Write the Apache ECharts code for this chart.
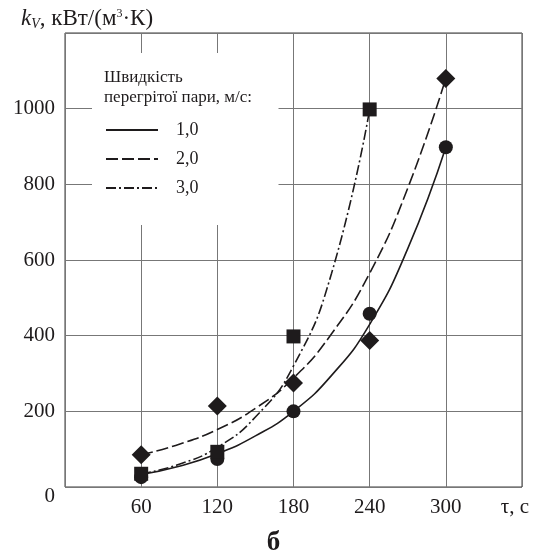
<!DOCTYPE html>
<html>
<head>
<meta charset="utf-8">
<script src="https://cdn.jsdelivr.net/npm/echarts@6/dist/echarts.min.js"></script>
<style>
  html, body { margin: 0; padding: 0; background: #fff; }
  #chart { width: 547px; height: 557px; }
</style>
</head>
<body>
<div id="chart"></div>
<script>
// time, s
const xTicks = [60, 120, 180, 240, 300];
// measured points
const pts10 = [26, 74, 200, 458, 898];
const pts20 = [85, 214, 275, 387, 1080];
const pts30 = [35, 93, 398, 998];
// trend curves, every 30 s
const fitTimes = [60, 90, 120, 150, 180, 210, 240, 270, 300];
const fit10 = [33, 55, 88, 135, 200, 295, 430, 630, 898];
const fit20 = [85, 113, 152, 208, 288, 405, 565, 790, 1080];
const fit30 = [35, 60, 105, 185, 320, 565, 998];
const seriesNames = ["1,0", "2,0", "3,0"];
const yTicks = [0, 200, 400, 600, 800, 1000];

const ink = "#1e1b1c";
const serif = "Liberation Serif, Times New Roman, serif";

function pairs(times, vals) {
  return vals.map((v, i) => [times[i], v]);
}

function curve(name, vals, type) {
  return {
    name: name,
    type: "line",
    data: pairs(fitTimes, vals),
    smooth: 0.5,
    symbol: "none",
    lineStyle: { color: ink, width: 1.6, type: type },
    z: 3
  };
}

function marks(vals, symbol, size) {
  return {
    type: "scatter",
    data: pairs(xTicks, vals),
    symbol: symbol,
    symbolSize: size,
    itemStyle: { color: ink, opacity: 1 },
    z: 5
  };
}

const chart = echarts.init(document.getElementById("chart"));
chart.setOption({
  animation: false,
  title: [
    {
      text: "{k|k}{v|V}{t|, кВт/(м}{s|3}{t|·К)}",
      left: 16, top: 2,
      textStyle: {
        fontWeight: "normal",
        rich: {
          k: { fontFamily: serif, fontStyle: "italic", fontWeight: "normal", fontSize: 23, color: ink },
          v: { fontFamily: serif, fontStyle: "italic", fontWeight: "normal", fontSize: 14, color: ink, padding: [10, 0, 0, 0] },
          t: { fontFamily: serif, fontWeight: "normal", fontSize: 23, color: ink },
          s: { fontFamily: serif, fontWeight: "normal", fontSize: 12, color: ink, padding: [0, 0, 10, 0] }
        }
      }
    },
    {
      text: "Швидкість\nперегрітої пари, м/с:",
      left: 104, top: 68,
      padding: 0,
      textStyle: { fontFamily: serif, fontWeight: "normal", fontSize: 17, lineHeight: 20, color: ink }
    },
    {
      text: "б",
      left: "center", top: 525,
      textStyle: { fontFamily: serif, fontWeight: "bold", fontSize: 27, color: ink }
    }
  ],
  legend: {
    data: seriesNames,
    orient: "vertical",
    left: 92, top: 53,
    backgroundColor: "#fff",
    padding: [68, 80, 28, 13],
    itemWidth: 52,
    itemHeight: 14,
    itemGap: 11,
    itemStyle: { opacity: 0 },
    textStyle: { fontFamily: serif, fontSize: 18, color: ink, padding: [0, 0, 0, 13] },
    selectedMode: false
  },
  grid: {
    left: 65, right: 25, top: 33, bottom: 70,
    show: true, borderColor: "#3a3a3a", borderWidth: 1
  },
  xAxis: {
    type: "value",
    min: 0, max: 360, interval: 60,
    axisLine: { show: false },
    axisTick: { show: false },
    splitLine: { show: true, lineStyle: { color: "#777", width: 1 } },
    axisLabel: {
      margin: 10,
      fontFamily: serif, fontSize: 21, color: ink,
      formatter: v => (v === 0 ? "" : v === 360 ? "{u|τ, с}" : String(v)),
      rich: { u: { fontFamily: serif, fontSize: 21, color: ink, padding: [0, 14, 0, 0] } }
    }
  },
  yAxis: {
    type: "value",
    min: 0, max: 1200, interval: 200,
    axisLine: { show: false },
    axisTick: { show: false },
    splitLine: { show: true, lineStyle: { color: "#777", width: 1 } },
    axisLabel: {
      margin: 10,
      fontFamily: serif, fontSize: 21, color: ink,
      formatter: v => (v === 0 ? "{z|0}" : yTicks.indexOf(v) >= 0 ? String(v) : ""),
      rich: { z: { fontFamily: serif, fontSize: 21, color: ink, padding: [18, 0, 0, 0] } }
    }
  },
  series: [
    curve(seriesNames[0], fit10, "solid"),
    curve(seriesNames[1], fit20, [12, 4]),
    curve(seriesNames[2], fit30, [10, 3, 2, 3]),
    marks(pts10, "circle", 14),
    marks(pts20, "diamond", 19),
    marks(pts30, "rect", 14)
  ]
});
</script>
</body>
</html>
